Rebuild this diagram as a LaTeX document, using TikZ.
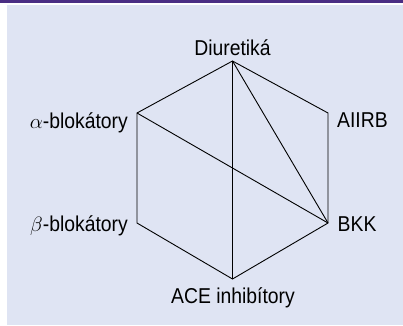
\documentclass[tikz,border=0pt]{standalone}
\usepackage{fontspec}
\setmainfont{Liberation Sans}[FakeStretch=0.9]
\definecolor{bgcol}{RGB}{223,228,243}
\definecolor{barcol}{RGB}{74,45,131}
\begin{document}
\begin{tikzpicture}[x=1pt,y=-1pt,
  lbl/.style={inner sep=0pt,font=\fontsize{21.5}{24}\selectfont},
  edge/.style={line width=0.9pt,line join=miter}]
\useasboundingbox (0,0) rectangle (403,325);
\fill[white] (0,0) rectangle (403,325);
\fill[bgcol] (7,5) rectangle (403,325);
\fill[barcol] (0,0) rectangle (403,2.7);
\coordinate (T) at (232.5,61);
\coordinate (UL) at (137,113);
\coordinate (UR) at (328,113);
\coordinate (LL) at (137,223);
\coordinate (LR) at (328,223);
\coordinate (B) at (232.5,279);
\draw[edge] (T) -- (UR) -- (LR) -- (B) -- (LL) -- (UL) -- cycle;
\draw[edge] (T) -- (B);
\draw[edge] (T) -- (LR);
\draw[edge] (UL) -- (LR);
\node[lbl,anchor=base] (diu) at (232.5,55.7) {Diuretiká};
\node[lbl,anchor=base east] (alpha) at (128,128) {$\alpha$-blokátory};
\node[lbl,anchor=base west] (aiirb) at (337,127.7) {AIIRB};
\node[lbl,anchor=base east] (beta) at (128,231) {$\beta$-blokátory};
\node[lbl,anchor=base west] (bkk) at (337.5,231.5) {BKK};
\node[lbl,anchor=base] (ace) at (233,303) {ACE inhibítory};
\end{tikzpicture}
\end{document}
